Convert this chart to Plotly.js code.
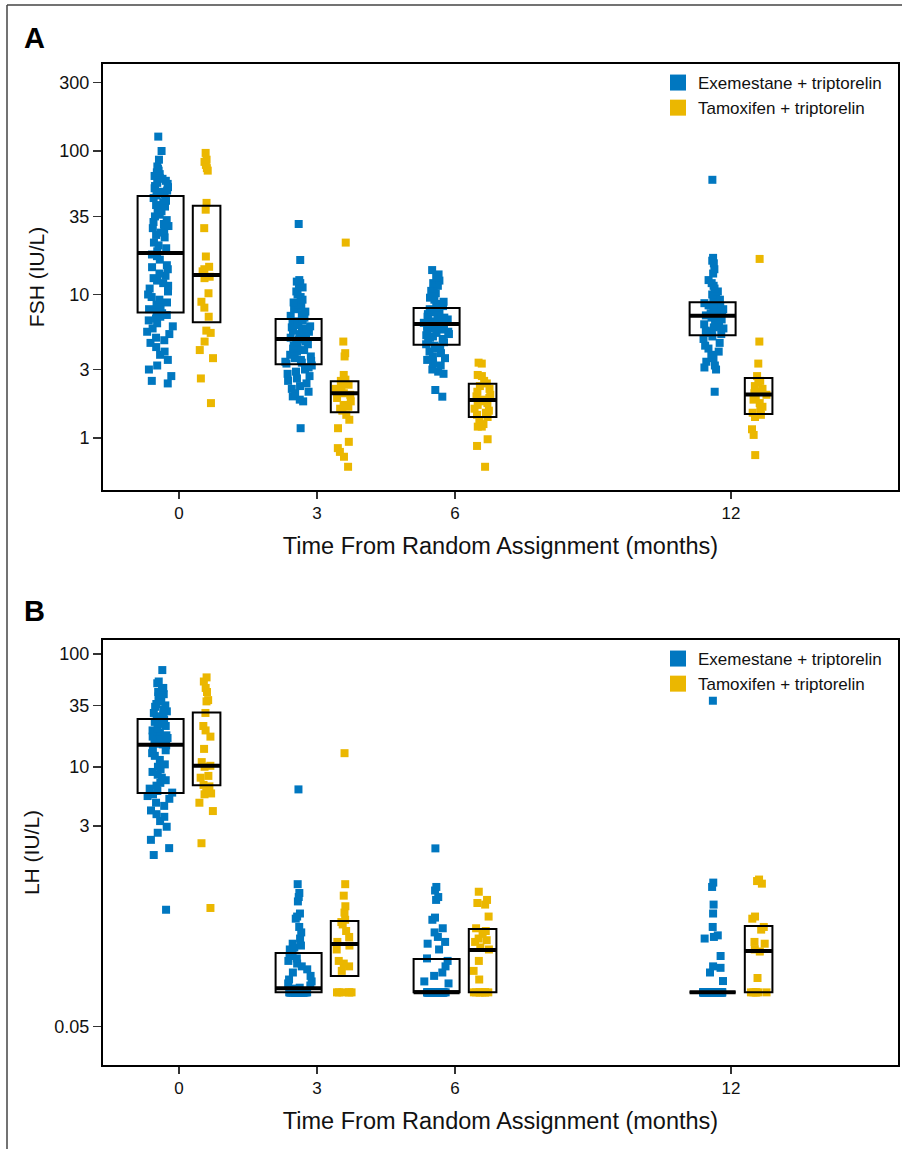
<!DOCTYPE html>
<html>
<head>
<meta charset="utf-8">
<script src="https://cdn.plot.ly/plotly-3.0.1.min.js"></script>
<style>
  html, body { margin: 0; padding: 0; background: #ffffff; }
  #chart { width: 902px; height: 1149px; }
</style>
</head>
<body>
<div id="chart"></div>
<script>
// ---------- categories / labels ----------
const months = [0, 3, 6, 12];
const tickLabels = ['0', '3', '6', '12'];
const seriesNames = ['Exemestane + triptorelin', 'Tamoxifen + triptorelin'];
const xTitle = 'Time From Random Assignment (months)';
const fshTitle = 'FSH (IU/L)';
const lhTitle = 'LH (IU/L)';
const fshTicks = [1, 3, 10, 35, 100, 300];
const lhTicks = [0.05, 3, 10, 35, 100];
const lhFloor = 0.1;   // lower limit of LH values (assay floor)

// ---------- FSH (panel A) individual values ----------
const fshExe0 = [126, 100, 87, 78, 75, 73, 71, 69, 67, 65, 64, 62, 60, 59, 57, 56, 55, 53, 52, 51, 50, 49,
  47, 45, 44, 42, 41, 39, 38, 36, 35, 33, 32, 31, 30, 29, 28, 27, 26, 25, 23, 22, 21, 20,
  19, 18.5, 17.5, 16, 15.5, 15, 14, 13.5, 13, 12.5, 12, 11.5, 11, 10.5, 10, 9.6, 9.2, 8.8, 8.5, 8.2, 7.9, 7.6,
  7.4, 7.2, 7.0, 6.8, 6.6, 6.3, 6.0, 5.8, 5.5, 5.3, 5.0, 4.8, 4.6, 4.3, 4.0, 3.8, 3.5, 3.2, 3.0, 2.7, 2.5, 2.4];
const fshTam0 = [97, 87, 84, 80, 76, 73, 43.5, 39, 29, 18.4, 15.6, 15, 14.5, 13.3, 13, 10.2, 8.9, 8.1, 7.0,
  5.6, 5.4, 4.7, 4.1, 3.6, 2.6, 1.75];
const fshExe3 = [31, 17.4, 12.6, 12.3, 12, 11.5, 11.2, 10.5, 10, 9.6, 9.2, 8.8, 8.5, 8.2, 7.9, 7.6, 7.3, 7.1, 6.9,
  6.6, 6.5, 6.4, 6.3, 6.1, 6.0, 5.9, 5.8, 5.75, 5.7, 5.6, 5.5, 5.4, 5.3, 5.2, 5.1, 5.0, 4.95,
  4.85, 4.7, 4.6, 4.5, 4.4, 4.3, 4.2, 4.1, 4.0, 3.9, 3.8, 3.7, 3.6, 3.5, 3.45, 3.4, 3.35, 3.3,
  3.2, 3.1, 3.0, 2.9, 2.8, 2.7, 2.6, 2.5, 2.4, 2.3, 2.2, 2.1, 2.05, 1.95, 1.85, 1.8, 1.17];
const fshTam3 = [23, 4.7, 3.9, 3.7, 2.75, 2.55, 2.5, 2.4, 2.35, 2.3, 2.2, 2.1, 2.05, 2.0, 1.9, 1.8, 1.7, 1.65,
  1.6, 1.55, 1.45, 1.34, 1.17, 0.94, 0.85, 0.8, 0.74, 0.63];
const fshExe6 = [14.8, 13.8, 13.2, 12.5, 12, 11.5, 11, 10.6, 10.2, 9.8, 9.5, 9.2, 8.9, 8.6, 8.3, 8.1,
  7.9, 7.8, 7.6, 7.5, 7.3, 7.2, 7.0, 6.9, 6.8, 6.7, 6.6, 6.5, 6.4, 6.35, 6.3, 6.25,
  6.15, 6.0, 5.9, 5.8, 5.7, 5.6, 5.5, 5.4, 5.3, 5.2, 5.1, 5.0, 4.9, 4.8, 4.65, 4.5,
  4.4, 4.3, 4.2, 4.0, 3.9, 3.7, 3.6, 3.5, 3.3, 3.2, 3.0, 2.9, 2.8, 2.16, 1.94];
const fshTam6 = [3.35, 3.3, 2.75, 2.7, 2.5, 2.4, 2.3, 2.2, 2.1, 2.0, 1.95, 1.9, 1.85, 1.8, 1.75, 1.7, 1.6,
  1.55, 1.5, 1.45, 1.4, 1.3, 1.25, 1.2, 1.2, 0.98, 0.88, 0.63];
const fshExe12 = [63, 18, 17.2, 16.5, 15, 14, 12.6, 12, 11.5, 11, 10.5, 10, 9.6, 9.2, 8.9,
  8.7, 8.5, 8.4, 8.2, 8.0, 7.9, 7.8, 7.6, 7.5, 7.4, 7.3, 7.2, 7.15,
  7.0, 6.9, 6.7, 6.5, 6.3, 6.2, 6.0, 5.9, 5.8, 5.6, 5.5, 5.4, 5.3,
  5.1, 4.9, 4.6, 4.4, 4.2, 4.0, 3.8, 3.6, 3.4, 3.2, 3.1, 3.0, 2.1];
const fshTam12 = [17.7, 4.7, 3.3, 2.7, 2.5, 2.45, 2.3, 2.2, 2.1, 2.05, 2.0, 1.95, 1.85, 1.75, 1.65, 1.6,
  1.5, 1.45, 1.4, 1.15, 1.05, 0.76];

// FSH box statistics (quartiles and median per time point)
const fshExeQ1 = [7.5, 3.26, 4.47, 5.19];
const fshExeMed = [19.5, 4.9, 6.22, 7.11];
const fshExeQ3 = [48.6, 6.75, 8.05, 8.82];
const fshTamQ1 = [6.4, 1.51, 1.40, 1.47];
const fshTamMed = [13.7, 2.05, 1.84, 2.01];
const fshTamQ3 = [41.6, 2.49, 2.39, 2.62];

// ---------- LH (panel B) individual values ----------
const lhExe0 = [72, 57, 55, 50, 48, 46, 44, 42, 40, 38, 36, 35, 34, 32, 31, 30, 29, 28, 27,
  26, 25, 24, 23, 22, 21, 20.5, 20, 19, 18.5, 18, 17.5, 17, 16.5, 16, 15.8,
  15.5, 14.5, 14, 13.2, 12.5, 11.5, 10.5, 10, 9.5, 9, 8.5, 8, 7.6, 7.2, 6.8, 6.4, 6.1, 5.9,
  5.7, 5.5, 5.2, 4.8, 4.5, 4.1, 3.8, 3.6, 3.3, 2.94, 2.6, 2.25, 1.9, 1.65, 0.54];
const lhTam0 = [62, 57, 50, 46, 39, 38, 30, 23, 21, 18.5, 14.4, 11, 10.2, 10, 8.3, 8.0, 6.9, 6.7,
  5.9, 5.8, 5.7, 4.8, 4.05, 2.1, 0.56];
const lhExe3 = [6.3, 0.91, 0.76, 0.7, 0.64, 0.5, 0.47, 0.45, 0.38, 0.34, 0.3, 0.27, 0.26, 0.25, 0.24,
  0.23, 0.22, 0.21, 0.2, 0.19, 0.18, 0.17, 0.16, 0.15, 0.14, 0.13, 0.125, 0.12, 0.115, 0.11, 0.108,
  0.1, 0.1, 0.1, 0.1, 0.1, 0.1, 0.1, 0.1, 0.1, 0.1, 0.1, 0.1, 0.1, 0.1,
  0.1, 0.1, 0.1, 0.1, 0.1, 0.1, 0.1, 0.1, 0.1, 0.1, 0.1, 0.1, 0.1, 0.1];
const lhTam3 = [13.2, 0.91, 0.72, 0.58, 0.51, 0.44, 0.42, 0.4, 0.35, 0.31, 0.28, 0.26, 0.24, 0.19, 0.18,
  0.17, 0.155, 0.1, 0.1, 0.1, 0.1, 0.1, 0.1];
const lhExe6 = [1.89, 0.86, 0.8, 0.7, 0.66, 0.46, 0.44, 0.37, 0.34, 0.31, 0.28, 0.27, 0.24, 0.2, 0.19,
  0.17, 0.15, 0.14, 0.125, 0.12,
  0.1, 0.1, 0.1, 0.1, 0.1, 0.1, 0.1, 0.1, 0.1, 0.1, 0.1, 0.1, 0.1, 0.1, 0.1, 0.1, 0.1, 0.1,
  0.1, 0.1, 0.1, 0.1, 0.1, 0.1, 0.1, 0.1, 0.1, 0.1, 0.1, 0.1, 0.1, 0.1, 0.1, 0.1, 0.1, 0.1];
const lhTam6 = [0.78, 0.66, 0.62, 0.6, 0.47, 0.37, 0.35, 0.33, 0.3, 0.29, 0.28, 0.25, 0.24, 0.19, 0.155,
  0.13, 0.1, 0.1, 0.1, 0.1, 0.1, 0.1, 0.1, 0.1];
const lhExe12 = [38.5, 0.94, 0.86, 0.6, 0.5, 0.38, 0.32, 0.31, 0.3, 0.21, 0.17, 0.165, 0.15, 0.126,
  0.1, 0.1, 0.1, 0.1, 0.1, 0.1, 0.1, 0.1, 0.1, 0.1, 0.1, 0.1, 0.1, 0.1, 0.1, 0.1, 0.1, 0.1, 0.1, 0.1, 0.1, 0.1,
  0.1, 0.1, 0.1, 0.1, 0.1, 0.1, 0.1, 0.1, 0.1, 0.1, 0.1, 0.1, 0.1, 0.1, 0.1, 0.1, 0.1, 0.1, 0.1, 0.1, 0.1, 0.1];
const lhTam12 = [1.0, 0.97, 0.92, 0.47, 0.45, 0.38, 0.36, 0.28, 0.27, 0.24, 0.23, 0.134,
  0.1, 0.1, 0.1, 0.1, 0.1, 0.1];

// LH box statistics
const lhExeQ1 = [5.86, 0.1, 0.1, 0.1];
const lhExeMed = [15.7, 0.109, 0.1, 0.1];
const lhExeQ3 = [26.5, 0.223, 0.198, 0.1];
const lhTamQ1 = [6.85, 0.14, 0.1, 0.1];
const lhTamMed = [10.2, 0.268, 0.238, 0.233];
const lhTamQ3 = [30.2, 0.43, 0.365, 0.388];

// ---------- styling / layout constants ----------
const BLUE = '#0077C0';
const YELLOW = '#EBB700';
const FONT = 'Liberation Sans, Arial, Helvetica, sans-serif';
const OFF_EXE = -0.4, OFF_TAM = 0.6;     // dodge offsets (months)
const W_EXE = 1.0, W_TAM = 0.6;          // box widths (months)
const W = 902, H = 1149;
const px = v => v / W;
const py = v => 1 - v / H;

function centers(off) { return months.map(m => m + off); }
// build per-point x (group position) and y arrays, optionally filtered by value
function pointXY(groups, off, keep) {
  const xs = [], ys = [];
  groups.forEach((g, i) => g.forEach(v => { if (keep(v)) { xs.push(months[i] + off); ys.push(v); } }));
  return { xs, ys };
}
const all = () => true;
const aboveFloor = v => v > lhFloor;
const atFloor = v => v <= lhFloor;

function pointsTrace(groups, keep, off, width, jitter, color, xa, ya) {
  const p = pointXY(groups, off, keep);
  return {
    type: 'box', orientation: 'v', x: p.xs, y: p.ys,
    xaxis: xa, yaxis: ya, width: width,
    boxpoints: 'all', jitter: jitter, pointpos: 0,
    marker: { symbol: 'square', size: 8, color: color, line: { width: 0 } },
    line: { width: 0, color: 'rgba(0,0,0,0)' }, fillcolor: 'rgba(0,0,0,0)',
    whiskerwidth: 0, showlegend: false, hoverinfo: 'y'
  };
}
function statsTrace(q1, med, q3, off, width, xa, ya) {
  return {
    type: 'box', orientation: 'v', x: centers(off), q1: q1, median: med, q3: q3,
    lowerfence: q1, upperfence: q3, xaxis: xa, yaxis: ya, width: width,
    boxpoints: false, line: { color: '#000000', width: 2 }, fillcolor: 'rgba(0,0,0,0)',
    whiskerwidth: 0, showlegend: false, hoverinfo: 'skip'
  };
}
function medianTrace(med, off, width, xa, ya) {
  return {
    type: 'box', orientation: 'v', x: centers(off), q1: med, median: med, q3: med,
    lowerfence: med, upperfence: med, xaxis: xa, yaxis: ya, width: width,
    boxpoints: false, line: { color: '#000000', width: 4 }, fillcolor: 'rgba(0,0,0,0)',
    whiskerwidth: 0, showlegend: false, hoverinfo: 'skip'
  };
}
function legendTrace(name, color, xa, ya, legend) {
  return {
    type: 'scatter', mode: 'markers', x: [null], y: [null], xaxis: xa, yaxis: ya,
    name: name, legend: legend,
    marker: { symbol: 'square', size: 16, color: color }
  };
}

const fshExeGroups = [fshExe0, fshExe3, fshExe6, fshExe12];
const fshTamGroups = [fshTam0, fshTam3, fshTam6, fshTam12];
const lhExeGroups = [lhExe0, lhExe3, lhExe6, lhExe12];
const lhTamGroups = [lhTam0, lhTam3, lhTam6, lhTam12];

const data = [
  pointsTrace(fshExeGroups, all, OFF_EXE, W_EXE, 0.6, BLUE, 'x', 'y'),
  pointsTrace(fshTamGroups, all, OFF_TAM, W_TAM, 0.65, YELLOW, 'x', 'y'),
  statsTrace(fshExeQ1, fshExeMed, fshExeQ3, OFF_EXE, W_EXE, 'x', 'y'),
  statsTrace(fshTamQ1, fshTamMed, fshTamQ3, OFF_TAM, W_TAM, 'x', 'y'),
  medianTrace(fshExeMed, OFF_EXE, W_EXE, 'x', 'y'),
  medianTrace(fshTamMed, OFF_TAM, W_TAM, 'x', 'y'),
  legendTrace(seriesNames[0], BLUE, 'x', 'y', 'legend'),
  legendTrace(seriesNames[1], YELLOW, 'x', 'y', 'legend'),

  pointsTrace(lhExeGroups, aboveFloor, OFF_EXE, W_EXE, 0.6, BLUE, 'x2', 'y2'),
  pointsTrace(lhExeGroups, atFloor, OFF_EXE, W_EXE, 0.42, BLUE, 'x2', 'y2'),
  pointsTrace(lhTamGroups, aboveFloor, OFF_TAM, W_TAM, 0.7, YELLOW, 'x2', 'y2'),
  pointsTrace(lhTamGroups, atFloor, OFF_TAM, W_TAM, 0.65, YELLOW, 'x2', 'y2'),
  statsTrace(lhExeQ1, lhExeMed, lhExeQ3, OFF_EXE, W_EXE, 'x2', 'y2'),
  statsTrace(lhTamQ1, lhTamMed, lhTamQ3, OFF_TAM, W_TAM, 'x2', 'y2'),
  medianTrace(lhExeMed, OFF_EXE, W_EXE, 'x2', 'y2'),
  medianTrace(lhTamMed, OFF_TAM, W_TAM, 'x2', 'y2'),
  legendTrace(seriesNames[0], BLUE, 'x2', 'y2', 'legend2'),
  legendTrace(seriesNames[1], YELLOW, 'x2', 'y2', 'legend2')
];

const xRange = [-1.652, 15.63];
function xAxis(anchor) {
  return {
    anchor: anchor, domain: [px(103), px(898)], range: xRange, type: 'linear',
    tickmode: 'array', tickvals: months, ticktext: tickLabels,
    ticks: 'outside', ticklen: 7, tickwidth: 1.5, tickcolor: '#333333',
    showline: true, mirror: true, linecolor: '#000000', linewidth: 2,
    showgrid: false, zeroline: false,
    tickfont: { family: FONT, size: 17, color: '#111111' },
    title: { text: xTitle, font: { family: FONT, size: 23.5, color: '#111111' }, standoff: 15 }
  };
}
function yAxis(anchor, domain, range, ticks, title) {
  return {
    anchor: anchor, domain: domain, type: 'log', range: range,
    tickmode: 'array', tickvals: ticks, ticktext: ticks.map(String),
    ticks: 'outside', ticklen: 8, tickwidth: 1.5, tickcolor: '#333333',
    showline: true, mirror: true, linecolor: '#000000', linewidth: 2,
    showgrid: false, zeroline: false,
    tickfont: { family: FONT, size: 18, color: '#111111' },
    title: { text: title, font: { family: FONT, size: 21, color: '#111111' }, standoff: 9 }
  };
}

const legendBase = {
  xanchor: 'left', yanchor: 'top', bgcolor: 'rgba(0,0,0,0)', borderwidth: 0,
  font: { family: FONT, size: 17, color: '#111111' }, tracegroupgap: 0, itemclick: false
};

const layout = {
  width: W, height: H,
  margin: { l: 0, r: 0, t: 0, b: 0 },
  paper_bgcolor: '#ffffff', plot_bgcolor: '#ffffff',
  font: { family: FONT, color: '#111111' },
  boxmode: 'overlay',
  showlegend: true,
  xaxis: xAxis('y'),
  yaxis: yAxis('x', [py(490), py(64)], [Math.log10(0.434), Math.log10(404)], fshTicks, fshTitle),
  xaxis2: xAxis('y2'),
  yaxis2: yAxis('x2', [py(1065), py(640)], [Math.log10(0.0227), Math.log10(133)], lhTicks, lhTitle),
  legend: Object.assign({ x: px(658), y: py(65) }, legendBase),
  legend2: Object.assign({ x: px(658), y: py(641) }, legendBase),
  annotations: [
    { text: '<b>A</b>', xref: 'paper', yref: 'paper', x: px(22), y: py(38), xanchor: 'left', yanchor: 'middle',
      showarrow: false, font: { family: FONT, size: 29, color: '#000000' } },
    { text: '<b>B</b>', xref: 'paper', yref: 'paper', x: px(22), y: py(611), xanchor: 'left', yanchor: 'middle',
      showarrow: false, font: { family: FONT, size: 29, color: '#000000' } }
  ],
  shapes: [
    { type: 'line', xref: 'paper', yref: 'paper', x0: px(7), x1: px(902), y0: py(5), y1: py(5),
      line: { color: '#444444', width: 1.5 } },
    { type: 'line', xref: 'paper', yref: 'paper', x0: px(7), x1: px(7), y0: py(5), y1: py(1149),
      line: { color: '#444444', width: 1.5 } }
  ]
};

Plotly.newPlot('chart', data, layout, { displayModeBar: false, staticPlot: true });
</script>
</body>
</html>
